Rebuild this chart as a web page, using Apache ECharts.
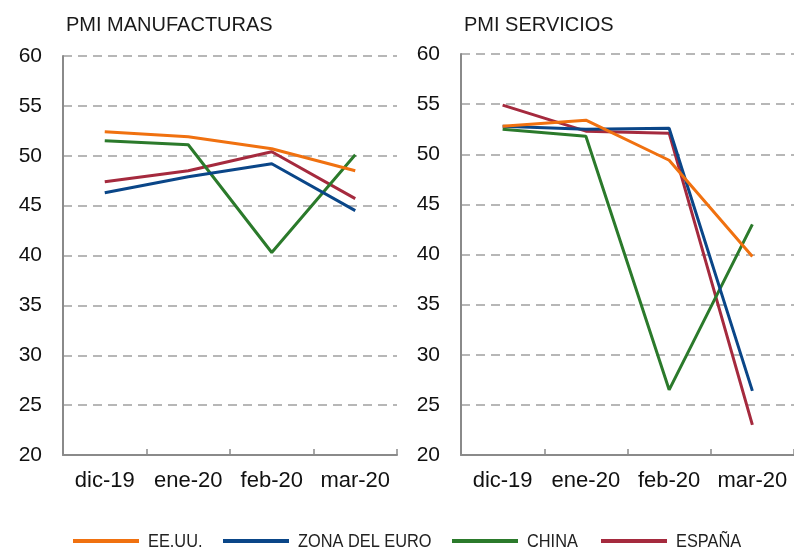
<!DOCTYPE html>
<html><head><meta charset="utf-8">
<script src="https://cdn.jsdelivr.net/npm/echarts@6/dist/echarts.min.js"></script>
<style>html,body{margin:0;padding:0;background:#fff}#c{width:794px;height:552px}</style>
</head><body><div id="c"></div>
<script>
const categories = ['dic-19','ene-20','feb-20','mar-20'];
const seriesNames = ['EE.UU.','ZONA DEL EURO','CHINA','ESPAÑA'];
const colors = ['#f07110','#0a4688','#2b7a2b','#a52a3e'];
const manuUS = [52.4, 51.9, 50.7, 48.5];
const manuEZ = [46.3, 47.9, 49.2, 44.5];
const manuCN = [51.5, 51.1, 40.3, 50.1];
const manuES = [47.4, 48.5, 50.4, 45.7];
const servUS = [52.8, 53.4, 49.4, 39.8];
const servEZ = [52.8, 52.5, 52.6, 26.4];
const servCN = [52.5, 51.8, 26.5, 43.0];
const servES = [54.9, 52.3, 52.1, 23.0];
const yTicks = {min: 20, max: 60, interval: 5};
const titles = ['PMI MANUFACTURAS', 'PMI SERVICIOS'];

const chart = echarts.init(document.getElementById('c'), null, {renderer: 'canvas'});
const font = 'Liberation Sans, Arial, sans-serif';
function xAx(i){return {type:'category', gridIndex:i, data:categories, boundaryGap:true,
  axisLine:{lineStyle:{color:'#8a8a8a', width:2}},
  axisTick:{show:true, inside:true, length:6, lineStyle:{color:'#8a8a8a', width:1.5}},
  axisLabel:{color:'#111', fontSize:22, fontFamily:font, margin:15, interval:0},
  splitLine:{show:false}};}
function yAx(i){return {type:'value', gridIndex:i, min:yTicks.min, max:yTicks.max, interval:yTicks.interval,
  axisLine:{show:true, lineStyle:{color:'#8a8a8a', width:2}},
  axisTick:{show:false},
  axisLabel:{color:'#111', fontSize:21, fontFamily:font, margin:21},
  splitLine:{show:true, lineStyle:{color:'#a0a0a0', width:1.5, type:[9,6]}}};}
const data = [[manuUS, manuEZ, manuCN, manuES],[servUS, servEZ, servCN, servES]];
const series = [];
for (let g=0; g<2; g++) for (let s=0; s<4; s++) series.push({
  type:'line', name:seriesNames[s], xAxisIndex:g, yAxisIndex:g, data:data[g][s],
  symbol:'none', lineStyle:{color:colors[s], width:3}, itemStyle:{color:colors[s]}, z: 10 - s});

// legend drawn as graphic items (narrow text like the reference)
const legendX = [73, 223, 452, 601];
const legendGraphics = [];
seriesNames.forEach((n, i) => {
  legendGraphics.push({type:'rect', x:legendX[i], y:539, shape:{x:0, y:0, width:66, height:4}, style:{fill:colors[i]}});
  legendGraphics.push({type:'text', x:legendX[i]+75, y:542, scaleX:0.86, scaleY:1,
    style:{text:n, fill:'#222', fontSize:19, fontFamily:'Liberation Sans, Arial, sans-serif', verticalAlign:'middle', align:'left'}});
});

chart.setOption({
  animation:false,
  title:[
    {text:titles[0], left:61, top:10, textStyle:{fontSize:20, fontWeight:'normal', color:'#1a1a1a', fontFamily:font}},
    {text:titles[1], left:459, top:10, textStyle:{fontSize:20, fontWeight:'normal', color:'#1a1a1a', fontFamily:font}}
  ],
  grid:[
    {left:63, width:334, top:56, height:399},
    {left:461, width:333, top:54, height:401}
  ],
  xAxis:[xAx(0), xAx(1)],
  yAxis:[yAx(0), yAx(1)],
  graphic: legendGraphics,
  series: series
});
</script></body></html>
